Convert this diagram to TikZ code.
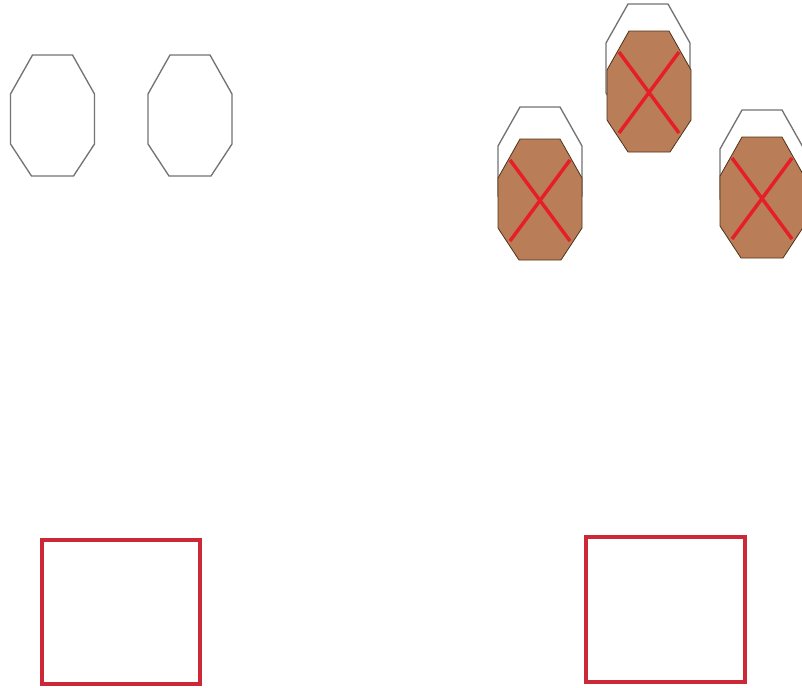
\documentclass[tikz,border=0pt]{standalone}
\begin{document}
\begin{tikzpicture}[x=0.75pt,y=-0.75pt,
  octline/.style={draw=gray!90!black,line width=1pt,line join=miter},
  brownfill/.style={fill=brownbag,draw=brown!40!black,line width=0.6pt},
  crossline/.style={draw=crossred,line width=2.6pt},
  boxline/.style={draw=boxred,line width=2.4pt}]
\definecolor{brownbag}{RGB}{185,125,88}
\definecolor{crossred}{RGB}{230,30,40}
\definecolor{boxred}{RGB}{205,40,55}
\tikzset{
  octo/.pic={\path[pic actions] (-20,0) -- (20,0) -- (42,39) -- (42,89) -- (21,121) -- (-21,121) -- (-42,89) -- (-42,39) -- cycle;},
  bag/.pic={
    \path[brownfill] (-20,0) -- (20,0) -- (42,39) -- (42,89) -- (21,121) -- (-21,121) -- (-42,89) -- (-42,39) -- cycle;
    \path[crossline] (-30,21) -- (30,102);
    \path[crossline] (30,21) -- (-30,102);}
}
\useasboundingbox (0,0) rectangle (802,687);
% empty octagons
\pic[octline,fill=white] (o1) at (52.5,55) {octo};
\pic[octline,fill=white] (o2) at (190,55) {octo};
% bags: outline then brown filled
\pic[octline,fill=white] (w1) at (540,107) {octo};
\pic (b1) at (540,139) {bag};
\pic[octline,fill=white] (w2) at (648,4) {octo};
\pic (b2) at (649,31) {bag};
\pic[octline,fill=white] (w3) at (762,110) {octo};
\pic (b3) at (762,137) {bag};
% red boxes
\path[boxline] (42,540) rectangle (200,684);
\path[boxline] (586,537) rectangle (745,682);
\end{tikzpicture}
\end{document}
